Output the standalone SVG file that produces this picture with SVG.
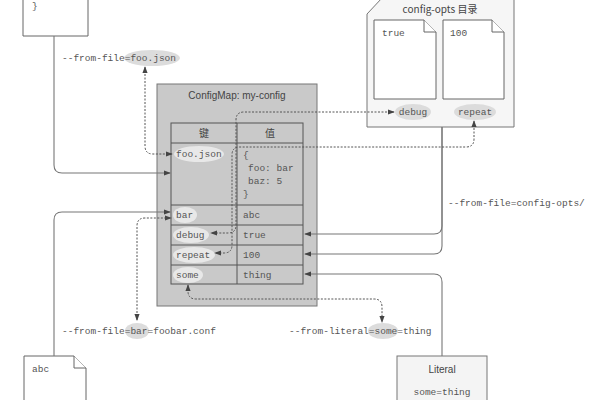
<svg xmlns="http://www.w3.org/2000/svg" width="600" height="400" viewBox="0 0 600 400">
<defs>
<style>
.mono{font-family:"Liberation Mono","DejaVu Sans Mono",monospace;font-size:9.5px;fill:#555}
.sans{font-family:"Liberation Sans",Arial,sans-serif;font-size:10px;fill:#444}
.cjk{font-family:"Noto Sans CJK SC","Liberation Sans",sans-serif;font-size:10px;fill:#444}
.file{fill:#fff;stroke:#666;stroke-width:1}
.solid{fill:none;stroke:#777;stroke-width:1.1}
.dot{fill:none;stroke:#555;stroke-width:1;stroke-dasharray:2 1.5}
.hl{fill:#dcdcdc}
.hlt{fill:#e8e8e8}
.grid{fill:none;stroke:#555;stroke-width:1}
</style>
<marker id="ah" viewBox="0 0 8 8" refX="7" refY="4" markerWidth="7" markerHeight="7" markerUnits="userSpaceOnUse" orient="auto-start-reverse">
<path d="M0,1 L8,4 L0,7 Z" fill="#444"/>
</marker>
</defs>
<rect width="600" height="400" fill="#fff"/>

<g id="json-file">
<path class="file" d="M23,-2 H88 V36 H23 Z"/>
<text class="mono" x="32" y="9">}</text>
</g>

<g id="abc-file">
<path class="file" d="M24,356 H74 L86,368 V402 H24 Z"/>
<path class="file" d="M74,356 V368 H86"/>
<text class="mono" x="32" y="372">abc</text>
</g>

<g id="config-opts">
<path d="M367,127 V14 L382,-2 H514 V127 Z" fill="#f6f6f6" stroke="#777"/>
<text class="cjk" x="440" y="13" text-anchor="middle">config-opts 目录</text>
<path class="file" d="M374,20 H424 L436,32 V99 H374 Z"/>
<path class="file" d="M424,20 V32 H436"/>
<text class="mono" x="382" y="36">true</text>
<path class="file" d="M443,20 H492 L504,32 V99 H443 Z"/>
<path class="file" d="M492,20 V32 H504"/>
<text class="mono" x="450" y="36">100</text>
<ellipse class="hl" cx="413" cy="112" rx="18" ry="8"/>
<text class="mono" x="413" y="115" text-anchor="middle">debug</text>
<ellipse class="hl" cx="475" cy="112" rx="21" ry="8"/>
<text class="mono" x="475" y="115" text-anchor="middle">repeat</text>
</g>

<g id="literal">
<rect x="397" y="356" width="90" height="50" fill="#f4f4f4" stroke="#777"/>
<text class="sans" x="442" y="373" text-anchor="middle">Literal</text>
<text class="mono" x="442" y="395" text-anchor="middle">some=thing</text>
</g>

<g id="configmap">
<rect x="157" y="84" width="160" height="222" fill="#c9c9c9" stroke="#777"/>
<text class="sans" x="237" y="99" text-anchor="middle">ConfigMap: my-config</text>
<rect class="grid" x="171" y="123" width="132" height="161"/>
<line class="grid" x1="171" y1="143" x2="303" y2="143"/>
<line class="grid" x1="171" y1="205" x2="303" y2="205"/>
<line class="grid" x1="171" y1="225" x2="303" y2="225"/>
<line class="grid" x1="171" y1="245" x2="303" y2="245"/>
<line class="grid" x1="171" y1="265" x2="303" y2="265"/>
<line class="grid" x1="237" y1="123" x2="237" y2="284"/>
<text class="cjk" x="204" y="137" text-anchor="middle">键</text>
<text class="cjk" x="270" y="137" text-anchor="middle">值</text>
<ellipse class="hlt" cx="199" cy="154" rx="25" ry="8"/>
<text class="mono" x="176" y="157">foo.json</text>
<text class="mono" x="243" y="158">{</text>
<text class="mono" x="248" y="171">foo: bar</text>
<text class="mono" x="248" y="184">baz: 5</text>
<text class="mono" x="243" y="197">}</text>
<ellipse class="hlt" cx="185" cy="215" rx="12" ry="8"/>
<text class="mono" x="176" y="218">bar</text>
<text class="mono" x="243" y="218">abc</text>
<ellipse class="hlt" cx="191" cy="235" rx="18" ry="8"/>
<text class="mono" x="176" y="238">debug</text>
<text class="mono" x="243" y="238">true</text>
<ellipse class="hlt" cx="194" cy="255" rx="21" ry="8"/>
<text class="mono" x="176" y="258">repeat</text>
<text class="mono" x="243" y="258">100</text>
<ellipse class="hlt" cx="188" cy="275" rx="15" ry="8"/>
<text class="mono" x="176" y="278">some</text>
<text class="mono" x="243" y="278">thing</text>
</g>

<g id="labels">
<ellipse class="hl" cx="152" cy="58" rx="28" ry="8"/>
<text class="mono" x="62" y="61">--from-file=foo.json</text>
<ellipse class="hl" cx="137" cy="331" rx="12" ry="8"/>
<text class="mono" x="62" y="334">--from-file=bar=foobar.conf</text>
<ellipse class="hl" cx="383" cy="331" rx="15" ry="8"/>
<text class="mono" x="289" y="334">--from-literal=some=thing</text>
<text class="mono" x="448" y="206">--from-file=config-opts/</text>
</g>

<g id="connectors">
<path class="solid" marker-end="url(#ah)" d="M54,36 V165 Q54,173 62,173 H170"/>
<path class="solid" marker-end="url(#ah)" d="M54,356 V220 Q54,212 62,212 H170"/>
<path class="solid" marker-end="url(#ah)" d="M442,127 V226 Q442,234 434,234 H305"/>
<path class="solid" marker-end="url(#ah)" d="M442,127 V246 Q442,254 434,254 H305"/>
<path class="solid" marker-end="url(#ah)" d="M442,356 V282 Q442,274 434,274 H305"/>
<path class="dot" marker-start="url(#ah)" marker-end="url(#ah)" d="M145,67 V146 Q145,154 153,154 H172"/>
<path class="dot" marker-start="url(#ah)" marker-end="url(#ah)" d="M137,320 V226 Q137,218 145,218 H171"/>
<path class="dot" marker-start="url(#ah)" marker-end="url(#ah)" d="M394,112 H244 Q236,112 236,120 V225 Q236,233 228,233 H211"/>
<path class="dot" marker-start="url(#ah)" marker-end="url(#ah)" d="M474,121 V139 Q474,147 466,147 H240 Q232,147 232,155 V245 Q232,253 224,253 H215"/>
<path class="dot" marker-start="url(#ah)" marker-end="url(#ah)" d="M188,285 V291 Q188,299 196,299 H374 Q382,299 382,307 V322"/>
</g>
</svg>
